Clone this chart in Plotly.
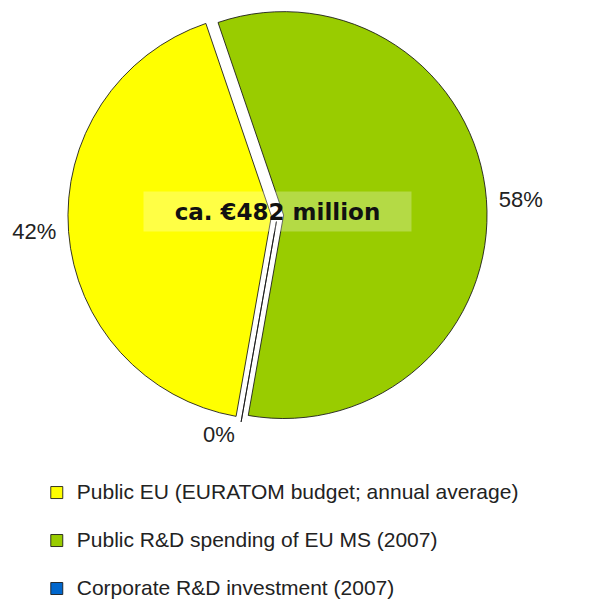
import plotly.graph_objects as go

# Funding sources and their shares (%)
labels = [
    "Public EU (EURATOM budget; annual average)",
    "Public R&D spending of EU MS (2007)",
    "Corporate R&D investment (2007)",
]
shares = [42, 58, 0]
colors = ["#FFFF00", "#99CC00", "#0066CC"]
center_label = "ca. €482 million"

# Legend entries: first line at full size, blank second line for row spacing
legend_names = [f"<span style='font-size:21px'>{t}</span><br>&nbsp;" for t in labels]

# Percent labels, padded away from the pie on the left/right sides
pct_templates = [
    "%{percent:.0%}&nbsp;",
    "&nbsp;%{percent:.0%}",
    "%{percent:.0%}",
]

fig = go.Figure(
    go.Pie(
        labels=legend_names,
        values=shares,
        sort=False,
        direction="clockwise",
        rotation=190,
        pull=0.03,
        marker=dict(colors=colors, line=dict(color="rgba(20,20,20,0.85)", width=1)),
        textinfo="percent",
        texttemplate=pct_templates,
        textposition="outside",
        outsidetextfont=dict(family="Liberation Sans, Arial, sans-serif", size=22, color="#222"),
        hoverinfo="label+percent",
        domain=dict(x=[0.1145, 0.8214], y=[0.2915, 0.990]),
        showlegend=True,
    )
)

fig.add_annotation(
    x=0.468, y=1 - 211 / 600, xref="paper", yref="paper",
    text=f"<b>{center_label}</b>",
    showarrow=False,
    font=dict(family="DejaVu Sans, Verdana, sans-serif", size=23, color="#111"),
    bgcolor="rgba(255,255,255,0.27)",
    width=265, height=37, borderpad=1,
)

fig.update_layout(
    width=593, height=600,
    margin=dict(l=0, r=0, t=0, b=0, autoexpand=False),
    paper_bgcolor="white",
    plot_bgcolor="white",
    legend=dict(
        x=0.062, xanchor="left", y=-0.048, yanchor="bottom",
        font=dict(family="Liberation Sans, Arial, sans-serif", size=17.3, color="#222"),
        valign="top",
        traceorder="normal",
    ),
)

fig.write_html("out.html")
